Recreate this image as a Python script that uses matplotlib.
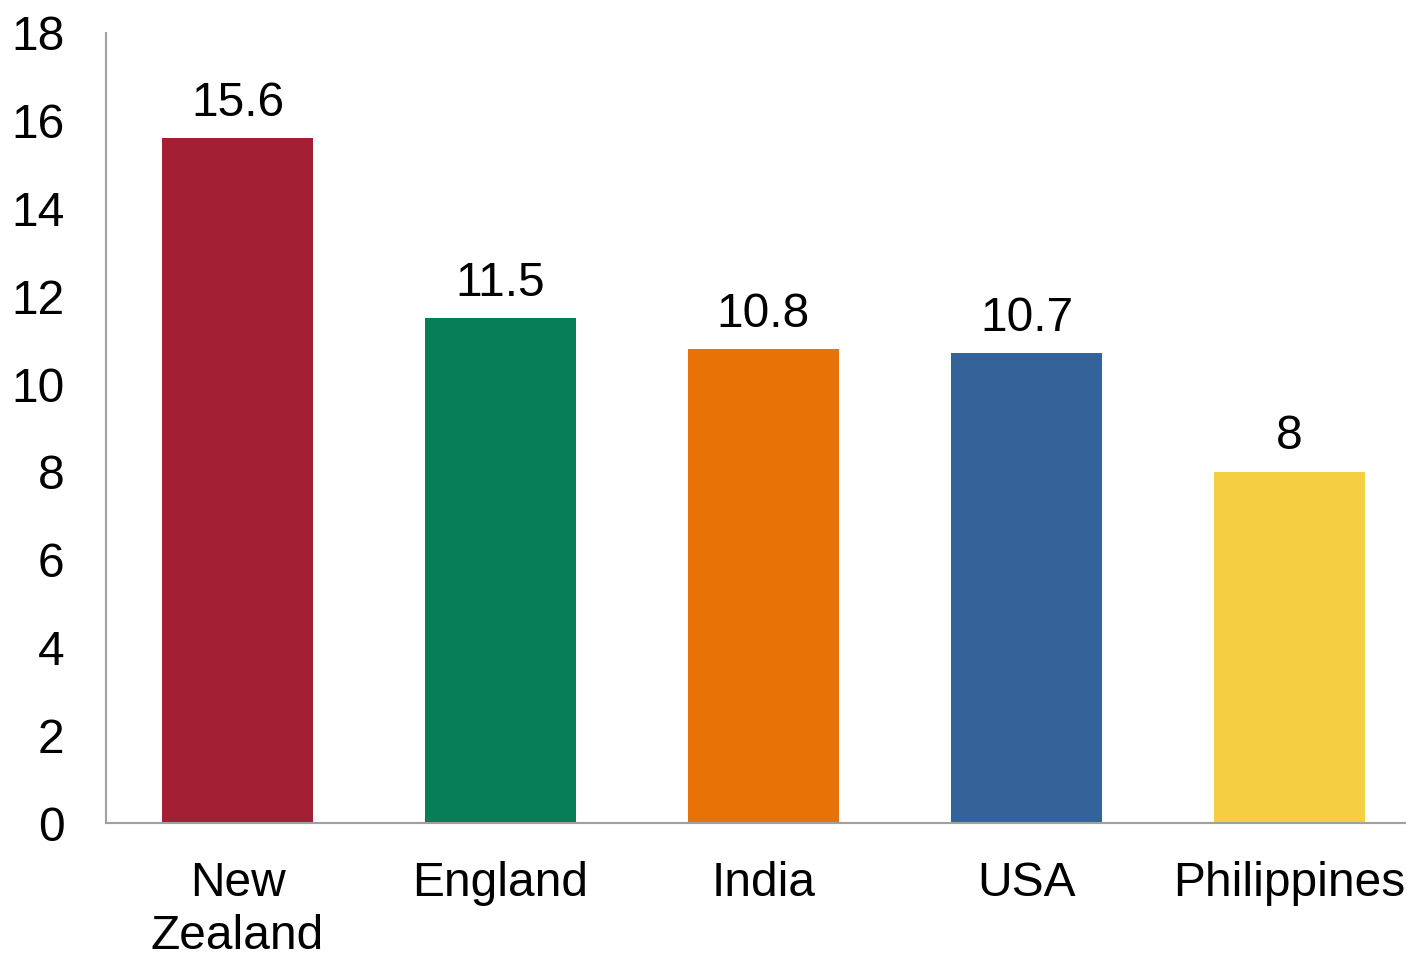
import matplotlib
matplotlib.use('Agg')
import matplotlib.pyplot as plt

# dados
paises = ['New\nZealand', 'England', 'India', 'USA', 'Philippines']
valores = [15.6, 11.5, 10.8, 10.7, 8]
rotulos = ['15.6', '11.5', '10.8', '10.7', '8']
cores = ['#A31F34', '#077D58', '#E97206', '#336399', '#F5CF40']
ticks_y = [0, 2, 4, 6, 8, 10, 12, 14, 16, 18]

plt.rcParams['font.family'] = ['Liberation Sans', 'DejaVu Sans']
fs = 34.5

fig = plt.figure(figsize=(14.06, 9.55), dpi=100)
# eixo um pouco mais largo que a figura (como no original)
ax = fig.add_axes([106 / 1406, 1 - 823 / 955, 1315 / 1406, (823 - 33) / 955])

x = range(len(paises))
barras = ax.bar(x, valores, width=0.574, color=cores)

for b, r in zip(barras, rotulos):
    ax.annotate(r, (b.get_x() + b.get_width() / 2, b.get_height()),
                xytext=(0, 9), textcoords='offset points',
                ha='center', va='bottom', fontsize=fs)

ax.set_xlim(-0.5, len(paises) - 0.5)
ax.set_ylim(0, 18)
ax.set_yticks(ticks_y)
ax.set_xticks(list(x))
ax.set_xticklabels(paises, fontsize=fs, linespacing=1.25)
ax.tick_params(axis='y', length=0, pad=30, labelsize=fs)
ax.tick_params(axis='x', length=0, pad=27)

for s in ['top', 'right']:
    ax.spines[s].set_visible(False)
for s in ['left', 'bottom']:
    ax.spines[s].set_color('#A0A0A0')
    ax.spines[s].set_linewidth(1.5)

fig.savefig('out.png', dpi=100)
